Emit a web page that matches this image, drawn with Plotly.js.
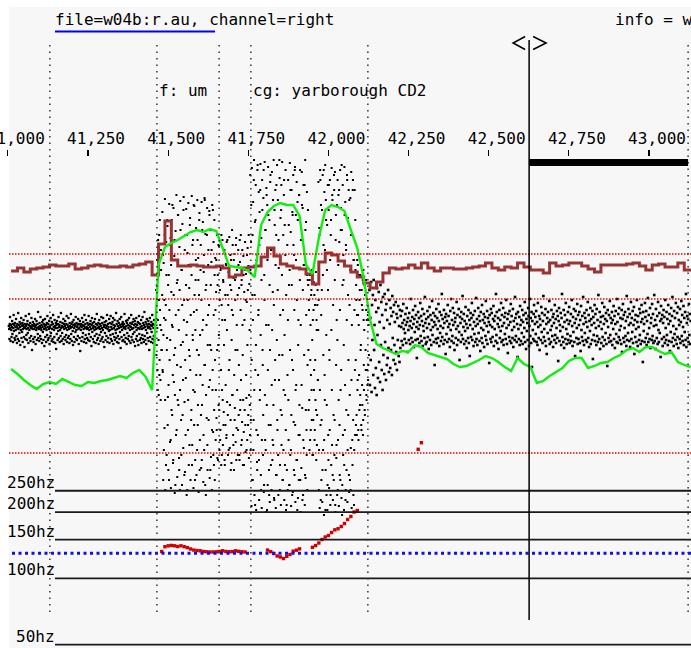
<!DOCTYPE html>
<html><head><meta charset="utf-8">
<script src="https://cdn.plot.ly/plotly-3.0.1.min.js"></script>
<style>html,body{margin:0;padding:0;background:#fff}</style>
</head><body><div id="chart" style="width:691px;height:648px"></div>
<script>
// ---- axis / labels ----
const tickVals = [41000,41250,41500,41750,42000,42250,42500,42750,43000];
const tickText = ['41,000','41,250','41,500','41,750','42,000','42,250','42,500','42,750','43,000'];
const segBounds = [41131,41465,41659,41758,42123,43122];
const segLabels = ['f: um','cg: yarborough CD2'];
const segLabelTimes = [41465,41758];
const cursorTime = 42626;
const selectionEnd = 43122;
const titleText = 'file=w04b:r.au, channel=right';
const infoText = 'info = w';

// ---- frame tracks (one value per frame) ----
const frameStart = 41010, frameStep = 20;
const energy = [15.5,13,10,7.5,5.5,8,9,8,10.5,9,
 7.5,7,9,8.5,9.5,10,11,12,11,13.5,
 15,11.5,5,67.5,76.5,78.5,80,82,84,85,
 84,85.5,84.5,76,67,66.5,66,64.5,61.5,87.5,
 94,97,98.5,97.5,97.5,92,67.5,63,81,95,
 97.5,96.5,94.5,85,76,61,40,28,26,24.5,
 23,24.5,24,27.5,26.5,23.5,22.5,21.5,20.5,18,
 16.5,17,18.5,20,22,21,19,16.5,14.5,21,
 18,16.5,8.5,9.5,12,14,16,19.5,21,21,
 16,17,18.5,19,21,22.5,25,26,24,26.5,
 26.5,24.5,23,24,19,17.5,16.5];
const brownTrack = [29,32,28,31,32,33,35,34,34,36,
 31,32,34,35,34,33,33,34,33,35,
 36,38,25,56,79,40,34,34,35,34,
 33,33,34,32,23,25,32,33,34,43,
 52,44,36,34,32,31,26,16,38,47,
 45,39,34,28,23,17,12,18,27,32,
 31,32,35,32,37,32,29,32,32,31,
 31,32,33,34,37,32,30,33,32,37,
 33,30,30,27,37,34,35,37,37,34,
 31,28,35,35,35,35,36,37,34,30,
 35,36,33,33,37,30,31];
const thresholds = [46,1,-153];

// ---- pitch (Hz), null = unvoiced ----
const pitchStart = 41480, pitchStep = 10;
const pitchHz = [132.4,139.2,140.5,141.1,140.5,139.5,140.5,139.2,137.9,135.9,
 134.4,133.7,133.4,132.4,132.0,131.7,131.7,132.0,132.4,133.4,
 132.4,132.1,132.1,133.4,132.6,132.1,131.7,
 null,null,null,null,null,null,
 134.4,132.1,129.6,126.3,125.0,123.0,125.9,128.3,132.8,134.2,136.1,
 null,null,null,
 138.3,140.9,144.7,150.1,154.1,156.5,161.5,166.1,168.0,172.0,177.4,185.0,191.0,200.1,203.3,
 null,null,null,null,null,null,null,null,null,null,null,null,null,null,null,null,null,null,
 385.8,413.4];
const hzGrid = [250,200,150,100,50];
const hzLabels = ['250hz','200hz','150hz','100hz','50hz'];
const pitchRef = 130;

// ---- waveform samples ----
const waveLeftStart = 41003, waveLeftStep = 0.94;
const waveLeft = [4,1,-9,6,13,2,-11,5,0,-7,3,9,-4,6,-12,2,15,-1,5,-8,
7,-10,3,0,11,-6,4,-13,6,2,-9,17,1,5,-11,-3,8,3,-15,6,
0,12,-8,4,-2,7,-12,1,5,10,-7,3,-17,6,2,-9,14,4,-5,1,
-10,6,9,-3,2,-13,5,16,0,-8,4,7,-11,2,-6,12,3,-20,5,1,
8,-9,-12,4,6,1,-7,11,3,-14,5,0,9,-10,2,6,-4,18,-8,3,
1,-11,7,4,-6,13,2,-9,0,5,-13,8,3,-2,10,-10,6,1,-16,4,
11,-7,2,5,-12,0,7,-5,14,3,-10,6,-8,1,9,-14,4,2,-6,12,
-3,5,-11,8,1,-9,6,15,-12,3,0,-7,10,4,-13,2,7,-19,5,-4,
9,2,-10,6,-1,13,-8,3,5,-12,0,8,-6,17,2,-11,4,-3,7,-9,
3,11,-14,6,1,-7,4,9,-10,2,-5,6,14,-12,0,5,-8,3,12,-6,
1,-13,7,4,-9,2,16,-4,6,-11,3,8,-1,-15,5,10,-7,2,-12,6,
4,-2,13,-9,0,7,-10,3,5,-6,11,1,-14,6,2,-8,9,-21,4,0,
6,-11,3,12,-7,5,-3,8,1,-12,4,15,-9,2,6,-5,10,-13,3,1,
-8,7,2,-10,5,14,-4,0,-11,6,3,9,-7,1,-16,5,12,-2,7,-9,
2,4,-12,8,0,-6,11,3,-13,6,1,-4,16,-10,5,2,-8,7,-14,3,
10,-5,1,6,-11,4,-2,13,-9,2,7,-7,0,12,-12,5,3,-17,8,-3,
5,-10,2,9,-6,4,15,-12,1,6,-8,3,-1,11,-13,7,0,-5,14,-9,
3,6,-11,1,8,-4,12,-14,5,2,-7,10,-10,4,0,-3,17,-8,6,-12,
1,9,-6,4,-13,7,2,-9,11,-2,5,-18,3,13,-7,6,0,-11,8,4,
-10,2,6,-5,16,-12,3,1,-8,9,4,-14,7,-3,10,-9,5,2,-6,12,
-11,4,0,7,-13,3,15,-7,6,1,-10,8,-4,2,11,-12,5,-2,9,-16,
6,3,-9,12,0,-6,5,-11,8,2,-15,7,14,-4,1,-10,6,3,-8,10,
-13,4,1,-5,13,-9,7,2,-12,5,18,-6,3,-10,8,0,-14,6,11,-3,
4,-8,2,9,-11,6,-20,3,12,-7,1,5,-12,8,-2,4,15,-9,6,-13,
2,-6,10,-10,5];
// voiced stretch: even samples (waveMid) and odd samples (waveMidOdd)
const waveMidStart = 41462, waveMidStep = 1.33;
const waveMid = [8,-25,45,2,-60,90,-10,30,-45,110,5,-70,60,-20,75,
118,-42,-150,67,12,-98,131,-160,25,88,-125,-8,104,-67,-140,55,126,-30,-112,92,
-158,38,110,-85,3,-133,122,-52,74,-163,-18,99,-105,135,47,-147,-70,115,20,-128,
83,-160,129,-37,-90,60,-155,106,-12,-118,133,30,-72,-142,95,-48,121,-165,8,77,
-100,127,-135,42,-26,112,-150,65,-80,134,-115,-5,90,-158,18,124,-62,-130,50,102,
-145,-20,130,-95,72,-162,35,117,-110,-45,85,-138,128,-75,0,108,-152,58,-120,132,
-35,96,-165,45,-88,122,-140,15,80,-57,119,-148,-15,100,-127,68,-160,125,-40,-102,
88,-135,110,-150,
72,-110,38,-88,95,-128,55,-15,-75,84,-120,40,-100,62,-135,25,-60,90,-115,48,
-82,78,-130,10,-95,66,-108,88,-72,35,-125,58,-40,93,-118,45,-90,70,-133,20,
-65,85,-105,52,-140,76,-78,30,-112,92,-98,60,-20,-125,80,-85,42,-130,68,-70,
95,-115,50,-92,5,-135,74,-102,38,-80,88,-122,56,-68,28,-110,82,-95,64,-128,
46,-75,
155,-120,88,-176,162,35,-150,128,-90,170,-165,108,-40,145,-180,70,-132,160,-105,15,
138,-170,118,-60,166,-145,92,-178,150,-20,-125,132,-162,55,168,-110,100,-182,142,-75,
125,-155,163,5,-140,110,-172,148,-95,80,-160,158,-130,38,-115,170,-168,120,-50,140,
-178,95,-145,165,-100,130,-165,62,-25,152,-135,112,-175,145,-85,168,-150,20,-120,135,
-170,105,-65,160,-180,125,-140,85,-160,150,-110,45,-155,167,-125,98,-176,140,-30,118,
-162,155,-92,75,-145,163,-172,115,-55,148,-130,128,-168,10,-150,135,-105,160,-182,90,
-138,158,-78,122,-165,145,-118,65,-175,170,-148,108,-100,138,-160,50,
45,-80,20,-120,55,-30,-100,35,-60,60,-125,10,-90,48,-40,-110,25,-70,58,-130,0,-85,40,-50,
148,-160,102,-178,160,-95,125,-150,40,-172,155,-120,85,-185,138,-70,165,-140,110,-165,
60,-180,145,-105,120,-158,-30,150,-175,95,-135,162,-115,130,-170,75,-150,140,-90,158,
-182,115,-128,10,-165,150,-110,135,-176,88,-145,160,-60,122,-168,100,-155,145,-125,50,
-180,163,-100,128,-160,80,-140,155,-172,112,-85,140,-162,25,-150,132,-118,158,-178,95,
-135,150,-165,70,-120,140,-105,
60,-95,30,-105,70,-50,15,-110,55,-80,40,-65,-20,65,-100,25,-75,50,-90,10,-60,45,-85,35,-40,20,-70,30,-55,15,-35,10];
const waveMidOddStart = 41462.665;
const waveMidOdd = [40,-15,70,-40,10,55,-65,95,-30,20,-50,80,0,-20,35,
-40,75,-5,-120,30,95,-70,10,-135,55,-20,110,-95,45,-55,-150,20,85,-10,-110,
65,-80,5,125,-45,-130,35,-25,90,-65,-155,15,70,-100,-35,50,115,-75,0,-140,
40,-60,100,-15,-125,60,25,-85,-50,120,10,-145,80,-30,-105,45,-5,95,-160,30,
-70,65,-20,-115,105,-40,15,-90,55,-135,85,-10,-60,125,-95,35,-150,0,70,-45,
20,-120,90,-75,50,-25,110,-140,-5,60,-85,30,-130,100,-55,10,-105,75,-35,130,
-155,40,-65,5,95,-115,-15,65,-90,25,115,-50,-140,45,-20,80,-100,-60,120,-125,
15,-80,55,-30,
20,-60,70,-100,-20,45,-130,85,-5,-80,30,-110,60,-40,95,-125,10,-70,50,-95,
-15,80,-135,35,-55,65,-105,0,90,-85,25,-120,55,-30,-75,75,-140,40,-10,100,
-65,15,-115,70,-45,-90,50,-20,85,-130,5,-60,35,-100,65,-35,-125,90,-80,20,
-50,45,-110,80,-25,-70,55,-135,10,60,-95,30,-45,-120,75,-15,40,-85,95,-65,
0,-105,
60,-90,125,-30,-150,95,10,-120,150,-60,35,-175,110,-15,-100,75,-140,165,-45,20,
-130,85,-70,140,-5,-160,50,-110,120,-35,-85,160,-155,30,-65,100,-120,5,135,-180,
70,-40,115,-95,-165,45,-20,155,-135,80,-55,0,-110,130,-75,25,-170,105,-30,65,
-145,145,-10,-90,40,-125,90,-50,170,-160,15,-80,120,-115,55,-25,-150,95,-60,150,
-5,-135,75,-100,35,-175,125,-45,10,-70,105,-155,60,-20,140,-120,-85,45,-165,115,
-40,85,-140,20,160,-95,-60,70,-130,30,-180,110,-15,-105,135,-75,50,-150,5,90,
-55,125,-170,40,-110,65,-25,145,-145,100,-80,15,-125,55,-35,120,
-20,30,-70,50,-110,5,-45,40,-90,-10,55,-125,20,-60,35,-100,-30,45,-80,10,-115,25,-50,0,
30,-120,95,-60,150,-170,15,-90,120,-140,55,-25,160,-110,-45,80,-180,130,-5,-75,
105,-155,40,-130,145,-20,-100,70,-165,110,0,-60,135,-145,25,-85,155,-125,50,-175,
90,-35,-115,125,-10,-160,65,-70,140,-95,20,-150,100,-40,165,-185,45,-105,75,-15,
-135,115,-55,-170,85,-80,10,150,-120,35,-30,-145,130,-65,60,-160,95,-50,5,-110,
140,-90,70,-175,20,-40,110,
-30,45,-85,15,-60,65,-100,5,-45,30,-75,55,-15,-95,40,-55,20,-105,60,-35,0,-80,35,-20,50,-65,10,-40,25,-50,5,-25];
const waveRightStart = 42128, waveRightStep = 1.32;
const waveRight = [40,-55,12,-30,48,-62,25,-10,35,-45,50,-20,5,-58,30,-38,18,-65,42,-5,
-48,22,38,-32,8,-52,45,-15,28,-40,15,-60,33,-25,2,-44,36,-12,20,-50,
26,-35,10,-28,40,-18,-42,30,6,-38,22,-20,14,-45,34,-8,18,-30,25,-15,
8,-34,28,-22,16,-40,12,-10,24,-26,4,-32,20,-18,
14,3,-11,19,7,-15,26,1,10,-9,-3,16,5,-13,22,8,-22,12,0,-10,
17,4,-14,9,31,-8,2,13,-12,20,6,-17,11,-2,24,-10,15,3,-28,8,
-9,18,1,12,-13,5,27,-6,14,-11,9,21,-16,4,-1,16,-8,33,7,-14,
11,-12,2,19,-7,13,-19,6,23,-10,15,0,-15,10,29,-5,3,17,-12,8,
-35,14,5,-9,21,-13,12,1,-8,26,9,-16,18,-3,4,-11,15,36,-7,11,
2,-14,20,7,-10,13,-24,16,-4,9,-12,25,3,14,-9,6,-17,19,0,31,
-11,10,-6,22,5,-13,17,-20,8,12,-8,1,28,-15,15,4,-10,21,-2,-30,
13,7,-12,18,-5,11,34,-9,3,16,-14,9,-1,23,-11,6,-18,14,2,-8,
20,-13,10,-26,5,17,-7,12,27,-10,1,15,-16,8,-4,19,-12,4,32,-9,
11,-15,6,22,-3,14,-11,9,-21,18,2,-8,25,-13,10,0,16,-17,7,13,
-6,29,-10,4,19,-14,12,-2,8,-33,15,5,-9,21,-12,17,3,-7,11,24,
-16,9,1,14,-11,36,-5,18,-13,6,12,-19,3,20,-8,10,-1,27,-12,15,
4,-10,22,-15,7,13,-4,17,-9,30,2,-14,11,-23,16,5,-7,19,-11,8,
26,-13,14,0,-8,21,-17,9,3,-10,33,12,-6,16,-12,6,-27,18,1,-9,
13,-15,24,5,-11,10,-3,20,-14,8,15,-7,2,28,-12,17,-19,11,-1,7,
-10,22,14,-16,4,31,-6,12,-13,18,-37,9,0,-9,16,25,-11,6,13,-4,
19,-12,8,-15,27,3,-8,14,-20,11,5,-10,23,-2,17,-13,9,34,-7,1,
15,-11,21,-16,6,-24,12,-3,18,8,-9,29,-14,10,0,-12,20,4,-6,13,
-17,16,7,-10,25,-5,11,-13,2,19,-8,14,-31,9,22,-11,5,-1,17,-15,
12,36,-7,3,-12,20,-18,8,15,-9,27,1,-14,10,-4,18,-10,6,23,-13,
9,-6,16,-11,30,4,-16,13,-2,21,-12,7,-26,19,11,-8,2,26,-14,15,
-9,5,18,-13,10,-21,24,0,-7,14,-11,33,6,-15,17,-3,12,-10,8,20,
-12,3,28,-8,15,-17,9,-1,22,-14,11,5,-10,19,-29,13,-5,7,25,-11,
16,2,-15,21,-6,10,-12,35,4,-9,18,-19,8,13,-13,1,27,-7,14,-16,
6,23,-10,11,-3,17,-14,9,-36,20,3,-8,15,-12,29,-5,12,-11,7,18,
-15,10,1,24,-9,14,-18,6,19,-4,-12,31,8,-13,16,-7,22,0,-10,12,
4,-14,20,-22,11,26,-8,15,-12,2,18,-6,9,-16,34,-10,13,-3,21,5,
-11,16,-17,7,28,-9,12,-2,19,-13,5,23,-24,10,-7,15,1,-12,30,8,
-16,14,3,-10,21,-5,17,-14,8,25,-11,11,-32,18,-1,6,-12,27,13,-8,
19,-15,9,-4,32,-12,15,2,-9,22,-18,7,12,-10,26,-6,16,-13,4,35,
-11,10,-19,21,5,-8,14,-14,28,0,-12,17,-3,9,-27,24,11,-9,15,-16,
7,20,-7,13,-13,30,2,-10,18,-5,11,-15,25,6,-11,16,-21,9,-2,22,
-12,14,33,-8,4,-16,19,-4,12,-10,27,1,-14,17,-7,23,-18,10,5,-9,
21,-13,8,29,-6,15,-11,3,24,-15,12,-2,18,-10,36,-17,7,14,-8,11,
-12,26,-5,16,-14,9];

// ---- build ----
const times = (start, step, arr) => arr.map((_, i) => start + i * step);
const MONO = 'DejaVu Sans Mono';
const W = 691, H = 648, TOP = 7;
const py = p => (H - p) / (H - TOP);   // paper fraction from a pixel row (layout only)
const px = p => p / W;

function waveTrace(start, step, arr, size) {
  return {x: times(start, step, arr), y: arr, xaxis:'x', yaxis:'y', type:'scatter', mode:'markers',
    hoverinfo:'skip', marker:{symbol:'square', size:size, color:'#000', line:{width:0}}};
}
const traces = [
  waveTrace(waveLeftStart, waveLeftStep, waveLeft, 2.3),
  waveTrace(waveMidStart, waveMidStep, waveMid, 2),
  waveTrace(waveMidOddStart, waveMidStep, waveMidOdd, 2),
  waveTrace(waveRightStart, waveRightStep, waveRight, 2.6),
  {x: times(frameStart, frameStep, brownTrack), y: brownTrack, xaxis:'x', yaxis:'y2', type:'scatter', mode:'lines',
   line:{color:'#983434', width:3, shape:'hv'}, hoverinfo:'skip'},
  {x: times(frameStart, frameStep, energy), y: energy, xaxis:'x', yaxis:'y3', type:'scatter', mode:'lines',
   line:{color:'#14ec14', width:2.4}, hoverinfo:'skip'},
  {x: times(pitchStart, pitchStep, pitchHz), y: pitchHz, xaxis:'x', yaxis:'y4', type:'scatter', mode:'markers',
   marker:{symbol:'square', size:3.4, color:'#d00000', line:{width:0}}, hoverinfo:'skip'}
];

const shapes = [];
shapes.push({type:'rect', xref:'paper', yref:'paper', x0:0, x1:px(9), y0:-0.05, y1:1.05,
  fillcolor:'#ffffff', line:{width:0}, layer:'below'});
thresholds.forEach(v => shapes.push({type:'line', xref:'paper', yref:'y2', x0:px(9), x1:1, y0:v, y1:v,
  line:{color:'#ee0000', width:1.5, dash:'1.5px,1.5px'}}));
// shapes on a log axis take data values (Hz)
hzGrid.forEach(v => shapes.push({type:'line', xref:'paper', yref:'y4', x0:px(55), x1:1,
  y0:v, y1:v, line:{color:'#1a1a1a', width:1.8}}));
shapes.push({type:'line', xref:'paper', yref:'y4', x0:px(12), x1:1, y0:pitchRef, y1:pitchRef,
  line:{color:'#1010e8', width:3, dash:'3px,3.5px'}});
segBounds.forEach(v => shapes.push({type:'line', xref:'x', yref:'paper', x0:v, x1:v, y0:py(612), y1:py(42),
  line:{color:'#333', width:1.5, dash:'1.5px,5px'}}));
shapes.push({type:'line', xref:'x', yref:'paper', x0:cursorTime, x1:cursorTime, y0:py(620), y1:py(40),
  line:{color:'#000', width:1.5}});
shapes.push({type:'rect', xref:'x', yref:'paper', x0:cursorTime, x1:selectionEnd, y0:py(166), y1:py(159),
  fillcolor:'#000', line:{width:0}});
shapes.push({type:'path', xref:'x', yref:'paper', xsizemode:'pixel', ysizemode:'pixel',
  xanchor:cursorTime, yanchor:py(43), path:'M-4,6.5 L-16,0 L-4,-6.5 M4,6.5 L17,0 L4,-6.5',
  fillcolor:'rgba(0,0,0,0)', line:{color:'#000', width:1.5}});
shapes.push({type:'line', xref:'paper', yref:'paper', x0:px(55), x1:px(215), y0:py(31.5), y1:py(31.5),
  line:{color:'#0000ee', width:2}});

const annotations = [];
// annotations on a log axis take log10 values
hzGrid.forEach((v, i) => annotations.push({xref:'paper', yref:'y4', x:px(55), y:Math.log10(v),
  xanchor:'right', yanchor:'bottom', xshift:2, yshift:-3, showarrow:false, text:hzLabels[i],
  font:{family:MONO, size:16, color:'#000'}}));
segLabels.forEach((t, i) => annotations.push({xref:'x', yref:'paper', x:segLabelTimes[i], y:py(91),
  xanchor:'left', yanchor:'middle', showarrow:false, text:t, font:{family:MONO, size:16, color:'#000'}}));
annotations.push({xref:'paper', yref:'paper', x:px(613), y:py(19), xanchor:'left', yanchor:'middle',
  showarrow:false, text:infoText, font:{family:MONO, size:16, color:'#000'}});

const layout = {
  width:W, height:H, margin:{l:0, r:0, t:TOP, b:0, pad:0},
  paper_bgcolor:'#ffffff', plot_bgcolor:'#f7f7f7', showlegend:false,
  title:{text:titleText, x:px(55), xanchor:'left', xref:'paper', y:1 - 19/H, yanchor:'middle', yref:'container',
    font:{family:MONO, size:16, color:'#000'}, pad:{t:0,b:0,l:0,r:0}},
  xaxis:{range:[41250 - 88*1750/561, 41250 + 603*1750/561], side:'top', anchor:'free', position:py(149),
    tickmode:'array', tickvals:tickVals, ticktext:tickText, ticks:'inside', ticklen:6, tickwidth:1.2, tickcolor:'#000',
    showgrid:false, zeroline:false, showline:false, ticklabelshift:8, ticklabelstandoff:2, ticklabeloverflow:'allow',
    tickfont:{family:MONO, size:16, color:'#000'}, fixedrange:true},
  yaxis:{range:[-318, 323], visible:false, fixedrange:true},
  yaxis2:{range:[-348, 293], overlaying:'y', visible:false, fixedrange:true},
  yaxis3:{range:[-124, 196.5], overlaying:'y', visible:false, fixedrange:true},
  yaxis4:{type:'log', range:[1.6832, 4.5968], overlaying:'y', visible:false, fixedrange:true},
  shapes:shapes, annotations:annotations
};
Plotly.newPlot('chart', traces, layout, {staticPlot:true, displayModeBar:false});
</script></body></html>
